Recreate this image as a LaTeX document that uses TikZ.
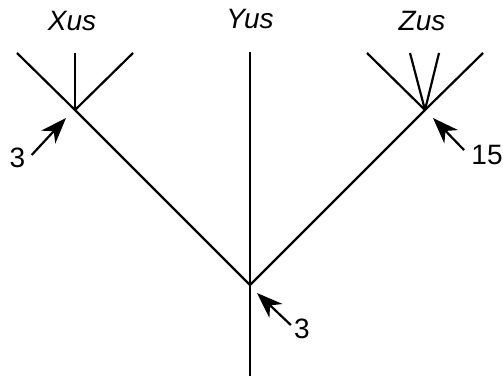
\documentclass[tikz,border=0pt]{standalone}
\usepackage{fontspec}
\setmainfont{Liberation Sans}
\usetikzlibrary{arrows.meta}
\begin{document}
\begin{tikzpicture}[x=0.5pt,y=-0.5pt,
  font=\fontsize{14}{16}\selectfont,
  branch/.style={draw=black,line width=1.1pt,line join=miter},
  taxon/.style={font=\fontsize{14}{16}\selectfont\itshape,inner sep=0pt},
  count/.style={inner sep=0pt},
  pointer/.style={-{Stealth[length=13pt,width=9.5pt,inset=4pt]},
    draw=black,line width=1.1pt}]
\useasboundingbox (0,0) rectangle (503,379);
% tree nodes
\coordinate (root) at (250,285);
\coordinate (base) at (250,376);
\coordinate (xnode) at (75,110);
\coordinate (znode) at (425,110);
\coordinate (x1) at (17,53);
\coordinate (x2) at (75,53);
\coordinate (x3) at (133,53);
\coordinate (ytip) at (250,52);
\coordinate (z1) at (367,53);
\coordinate (z2) at (410,53);
\coordinate (z3) at (439,53);
\coordinate (z4) at (483,53);

\draw[branch] (base)--(root)--(ytip);
\draw[branch] (root)--(xnode)--(x1);
\draw[branch] (root)--(znode)--(z4);
\draw[branch] (xnode)--(x2);
\draw[branch] (xnode)--(x3);
\draw[branch] (znode)--(z1);
\draw[branch] (znode)--(z2);
\draw[branch] (znode)--(z3);

\node[taxon] (xus) at (72,21) {Xus};
\node[taxon] (yus) at (250,19) {Yus};
\node[taxon] (zus) at (422,21) {Zus};

% counts
\node[count] (xcount) at (17.5,158) {3};
\node[count] (zcount) at (487,155) {15};
\node[count] (rcount) at (302,329) {3};
\coordinate (xmark) at (66,118);
\coordinate (zmark) at (433,118);
\coordinate (rmark) at (257,293);
\draw[pointer] ([xshift=3pt,yshift=1.5pt]xcount.east)--(xmark);
\draw[pointer] ([xshift=-3.5pt,yshift=2.5pt]zcount.west)--(zmark);
\draw[pointer] ([xshift=-1.5pt,yshift=2pt]rcount.west)--(rmark);
\end{tikzpicture}
\end{document}
